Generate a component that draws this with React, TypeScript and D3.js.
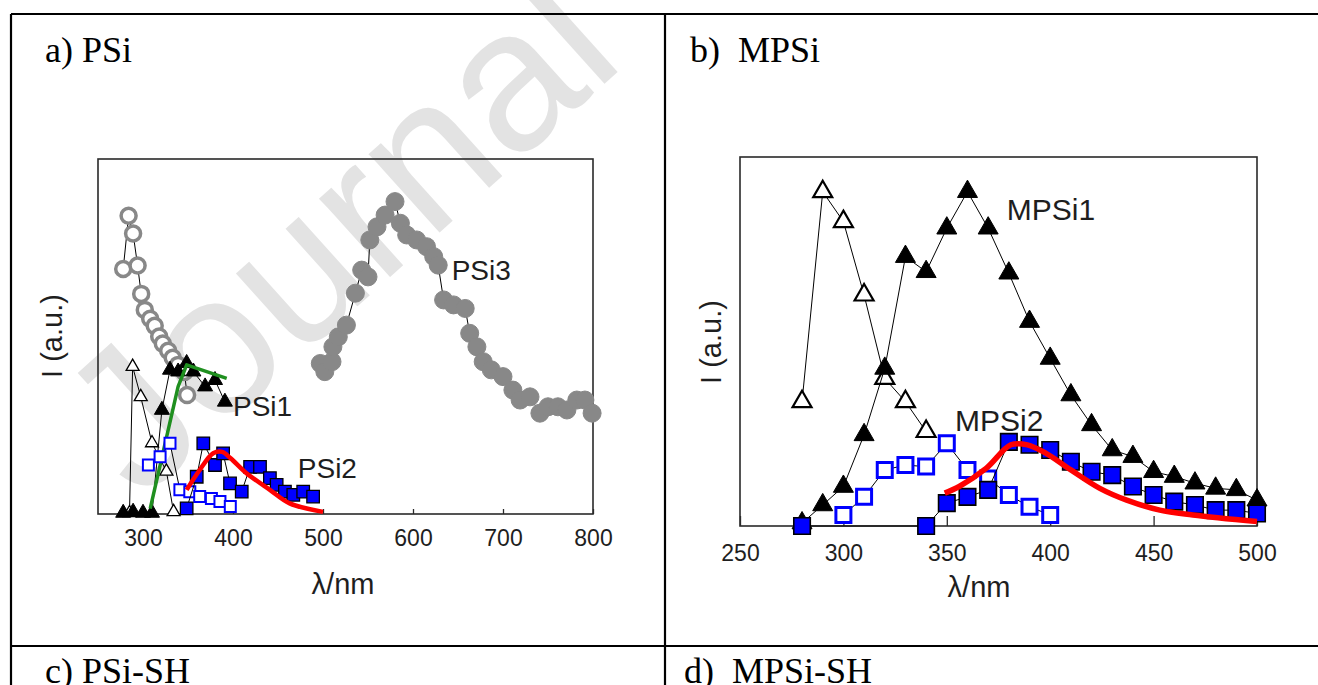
import React, { useEffect, useRef } from "react";
import * as d3 from "d3";

// ---- a) PSi ----
// grey open circles (PSi3 excitation)
const psi3ExcLambda = [278, 284, 289, 294, 298, 302, 308, 313, 318, 322, 328, 333, 339, 346, 349];
const psi3ExcI = [69, 84, 79, 70, 62, 57.5, 55, 53, 50, 48, 46, 44, 42, 40, 33.5];
// grey filled circles PSi3
const psi3Lambda = [497, 502, 510, 511, 517, 526, 536, 543, 550, 552, 560, 569, 580, 586, 593, 604, 615, 623, 628, 634, 645, 658, 663, 671, 678, 687, 700, 711, 719, 730, 741, 750, 761, 771, 782, 791, 799];
const psi3I = [42.4, 40.1, 42.9, 47.1, 49.9, 53.2, 62.2, 68.7, 66.8, 77.2, 80.9, 84.2, 88, 81.9, 78.6, 77.2, 75.3, 72.5, 70.1, 60.3, 58.9, 57.9, 50.9, 47.1, 42.9, 40.6, 38.7, 34.9, 32.1, 33, 28.4, 30.2, 30.2, 29.3, 32.1, 32.1, 28.4];
// open triangles (PSi1 excitation)
const psi1ExcLambda = [285, 288.5, 297.5, 310, 326, 334];
const psi1ExcI = [0.3, 41.5, 33, 20, 12, 0.6];
// filled triangles PSi1
const psi1Lambda = [278, 289, 300, 310, 321, 330, 339, 348.5, 356, 369, 380, 391];
const psi1I = [0.3, 0.6, 0.3, 0.3, 29.3, 40.6, 40.1, 42.5, 40.1, 35.9, 37.7, 31.6];
// green fit PSi1
const psi1FitLambda = [308, 339, 348.5, 393];
const psi1FitI = [1.5, 35.9, 42, 38.2];
// open blue squares (PSi2 excitation)
const psi2ExcLambda = [306, 319, 330, 341, 352, 363, 376, 385.5, 397];
const psi2ExcI = [13.8, 16.1, 19.9, 6.8, 6.3, 4.9, 4.4, 3.5, 2.1];
// filled blue squares PSi2
const psi2Lambda = [348.5, 359.7, 367, 380, 389, 396.7, 409.7, 419, 430, 441, 448.5, 457.7, 467, 478, 489];
const psi2I = [1.6, 10.5, 19.9, 13.8, 17.1, 8.6, 6.3, 13.3, 13.3, 10.1, 8.2, 6.3, 5.4, 6.3, 4.9];
// red fit PSi2
const psi2FitLambda = [348.5, 363, 378, 388, 397, 415, 441, 463, 500];
const psi2FitI = [6.8, 12.4, 17.1, 17.5, 15.8, 11.5, 6.8, 3, 0.6];
const ticksA = [300, 400, 500, 600, 700, 800];

// ---- b) MPSi ----
const mpsiExcLambda = [280, 290, 300, 310, 320, 330, 340];
const mpsiExcI = [33.7, 90.6, 82.5, 62.6, 40, 33.7, 25.6];
const mpsi1Lambda = [280, 290, 300, 310, 320, 330, 340, 350, 360, 370, 380, 390, 400, 410, 420, 430, 440, 450, 460, 470, 480, 490, 500];
const mpsi1I = [0.8, 5.7, 10.7, 24.7, 42.7, 73, 68.9, 80.7, 90.6, 80.7, 68.5, 55.4, 45.4, 35.5, 27.4, 20.6, 18.8, 14.7, 13.4, 11.6, 10.2, 9.8, 7];
const mpsi2ExcLambda = [300, 310, 320, 330, 340, 350, 360, 370, 380, 390, 400];
const mpsi2ExcI = [3, 7.9, 15.2, 16.5, 16.1, 22.4, 15.2, 12.9, 8.4, 5.2, 3];
const mpsi2Lambda = [280, 340, 350, 360, 370, 380, 390, 400, 410, 420, 430, 440, 450, 460, 470, 480, 490, 500];
const mpsi2I = [0, 0, 6.2, 7.9, 9.8, 22.8, 22, 20.6, 17.4, 14.7, 13.8, 10.7, 8.4, 6.6, 5.7, 4.3, 4.3, 3.4];
const mpsi2FitLambda = [349, 356, 369, 381, 389, 398, 410, 424, 437, 453, 469, 500];
const mpsi2FitI = [8.9, 10.7, 15.6, 22, 22, 19.7, 15.2, 10.2, 7, 4.3, 3, 1.2];
const ticksB = [250, 300, 350, 400, 450, 500];

const SANS = "'Liberation Sans', Arial, sans-serif";
const SERIF = "'Liberation Serif', 'Times New Roman', serif";

function drawPanel(svg, cfg) {
  const x = d3.scaleLinear().domain(cfg.xDomain).range([cfg.left, cfg.right]);
  const y = d3.scaleLinear().domain([0, 100]).range([cfg.bottom, cfg.top]);
  const g = svg.append("g");

  g.append("rect")
    .attr("x", cfg.left)
    .attr("y", cfg.top)
    .attr("width", cfg.right - cfg.left)
    .attr("height", cfg.bottom - cfg.top)
    .attr("fill", "none")
    .attr("stroke", "#2a2a2a")
    .attr("stroke-width", 1.6);

  const axis = g
    .append("g")
    .attr("transform", `translate(0, ${cfg.bottom})`)
    .call(d3.axisBottom(x).tickValues(cfg.ticks).tickSizeInner(-cfg.tickLen).tickSizeOuter(0).tickPadding(cfg.tickPad));
  axis.select(".domain").remove();
  axis.selectAll("line").attr("stroke", "#2a2a2a").attr("stroke-width", 1.3);
  axis.selectAll("text").attr("font-family", SANS).attr("font-size", 23).attr("fill", "#1e1e1e");

  g.append("text")
    .attr("x", cfg.xLabelX)
    .attr("y", cfg.xLabelY)
    .attr("text-anchor", "middle")
    .attr("font-family", SANS)
    .attr("font-size", 29)
    .attr("fill", "#1e1e1e")
    .text("λ/nm");

  g.append("text")
    .attr("transform", `translate(${cfg.yLabelX}, ${cfg.yLabelY}) rotate(-90)`)
    .attr("text-anchor", "middle")
    .attr("font-family", SANS)
    .attr("font-size", 29)
    .attr("fill", "#1e1e1e")
    .text("I (a.u.)");

  cfg.series.forEach((s) => {
    const pts = s.xs.map((v, i) => [x(v), y(s.ys[i])]);
    if (s.lineWidth) {
      g.append("path")
        .attr("d", d3.line().curve(s.smooth ? d3.curveCatmullRom : d3.curveLinear)(pts))
        .attr("fill", "none")
        .attr("stroke", s.lineColor)
        .attr("stroke-width", s.lineWidth)
        .attr("stroke-linejoin", "round");
    }
    if (s.marker) {
      const type = s.marker === "tri" ? d3.symbolTriangle : s.marker === "square" ? d3.symbolSquare : d3.symbolCircle;
      const area = s.marker === "tri" ? (s.size * s.size * Math.sqrt(3)) / 4 : s.marker === "square" ? s.size * s.size : (Math.PI * s.size * s.size) / 4;
      g.selectAll(null)
        .data(pts)
        .join("path")
        .attr("transform", (d) => `translate(${d[0]}, ${d[1]})`)
        .attr("d", d3.symbol().type(type).size(area)())
        .attr("fill", s.fill)
        .attr("stroke", s.stroke)
        .attr("stroke-width", s.strokeWidth);
    }
  });

  cfg.labels.forEach((l) => {
    g.append("text")
      .attr("x", x(l.lambda))
      .attr("y", y(l.i))
      .attr("font-family", SANS)
      .attr("font-size", cfg.labelSize)
      .attr("fill", "#1e1e1e")
      .text(l.text);
  });
}

export default function App() {
  const ref = useRef(null);

  useEffect(() => {
    const svg = d3.select(ref.current);
    svg.selectAll("*").remove();

    svg.append("rect").attr("width", 1318).attr("height", 685).attr("fill", "#fff");

    // watermark
    svg
      .append("text")
      .attr("transform", "translate(140, 502) rotate(-42)")
      .attr("font-family", SANS)
      .attr("font-size", 200)
      .attr("fill", "#e3e3e3")
      .text("Journal");

    // table
    const table = svg.append("g").attr("stroke", "#000").attr("stroke-width", 2.2);
    table.append("line").attr("x1", 11).attr("x2", 1318).attr("y1", 14).attr("y2", 14);
    table.append("line").attr("x1", 11).attr("x2", 1318).attr("y1", 646).attr("y2", 646);
    table.append("line").attr("x1", 11).attr("x2", 11).attr("y1", 14).attr("y2", 685);
    table.append("line").attr("x1", 665).attr("x2", 665).attr("y1", 14).attr("y2", 685);

    const titles = [
      { x: 45, y: 62, t: "a) PSi" },
      { x: 690, y: 62, t: "b)  MPSi" },
      { x: 45, y: 683, t: "c) PSi-SH" },
      { x: 684, y: 683, t: "d)  MPSi-SH" },
    ];
    titles.forEach((t) => {
      svg
        .append("text")
        .attr("x", t.x)
        .attr("y", t.y)
        .attr("font-family", SERIF)
        .attr("font-size", 36)
        .attr("fill", "#000")
        .style("white-space", "pre")
        .text(t.t);
    });

    drawPanel(svg, {
      xDomain: [250, 800],
      left: 98,
      right: 593,
      top: 159,
      bottom: 514,
      ticks: ticksA,
      tickLen: 5,
      tickPad: 16,
      xLabelX: 343,
      xLabelY: 594,
      yLabelX: 62,
      yLabelY: 336,
      labelSize: 28,
      series: [
        { xs: psi3ExcLambda, ys: psi3ExcI, lineColor: "#000", lineWidth: 1, marker: "circle", size: 15, fill: "#fff", stroke: "#888", strokeWidth: 3.5 },
        { xs: psi3Lambda, ys: psi3I, lineColor: "#000", lineWidth: 1, marker: "circle", size: 18, fill: "#888", stroke: "#888", strokeWidth: 1 },
        { xs: psi1ExcLambda, ys: psi1ExcI, lineColor: "#000", lineWidth: 1, marker: "tri", size: 13, fill: "#fff", stroke: "#000", strokeWidth: 1.3 },
        { xs: psi1Lambda, ys: psi1I, lineColor: "#000", lineWidth: 1, marker: "tri", size: 15, fill: "#000", stroke: "#000", strokeWidth: 1 },
        { xs: psi1FitLambda, ys: psi1FitI, lineColor: "#1f8f1f", lineWidth: 3.5 },
        { xs: psi2ExcLambda, ys: psi2ExcI, lineColor: "#000", lineWidth: 1, marker: "square", size: 11, fill: "#fff", stroke: "#0000ff", strokeWidth: 2 },
        { xs: psi2Lambda, ys: psi2I, lineColor: "#000", lineWidth: 1, marker: "square", size: 12.5, fill: "#0000ff", stroke: "#000", strokeWidth: 1.3 },
        { xs: psi2FitLambda, ys: psi2FitI, lineColor: "#ff0000", lineWidth: 4.5, smooth: true },
      ],
      labels: [
        { lambda: 400, i: 27.6, text: "PSi1" },
        { lambda: 472, i: 10.1, text: "PSi2" },
        { lambda: 643, i: 65.9, text: "PSi3" },
      ],
    });

    drawPanel(svg, {
      xDomain: [250, 500],
      left: 740,
      right: 1257,
      top: 157,
      bottom: 526,
      ticks: ticksB,
      tickLen: 10,
      tickPad: 19,
      xLabelX: 979,
      xLabelY: 597,
      yLabelX: 721,
      yLabelY: 342,
      labelSize: 30,
      series: [
        { xs: mpsiExcLambda, ys: mpsiExcI, lineColor: "#000", lineWidth: 1, marker: "tri", size: 19, fill: "#fff", stroke: "#000", strokeWidth: 2.2 },
        { xs: mpsi1Lambda, ys: mpsi1I, lineColor: "#000", lineWidth: 1, marker: "tri", size: 20, fill: "#000", stroke: "#000", strokeWidth: 1 },
        { xs: mpsi2ExcLambda, ys: mpsi2ExcI, lineColor: "#000", lineWidth: 1, marker: "square", size: 15, fill: "#fff", stroke: "#0000ff", strokeWidth: 3 },
        { xs: mpsi2Lambda, ys: mpsi2I, lineColor: "#000", lineWidth: 1, marker: "square", size: 16.5, fill: "#0000ff", stroke: "#000", strokeWidth: 1.6 },
        { xs: mpsi2FitLambda, ys: mpsi2FitI, lineColor: "#ff0000", lineWidth: 5.5, smooth: true },
      ],
      labels: [
        { lambda: 379, i: 82.9, text: "MPSi1" },
        { lambda: 354, i: 25.7, text: "MPSi2" },
      ],
    });
  }, []);

  return <svg ref={ref} width={1318} height={685} style={{ position: "absolute", left: 0, top: 0 }} />;
}
